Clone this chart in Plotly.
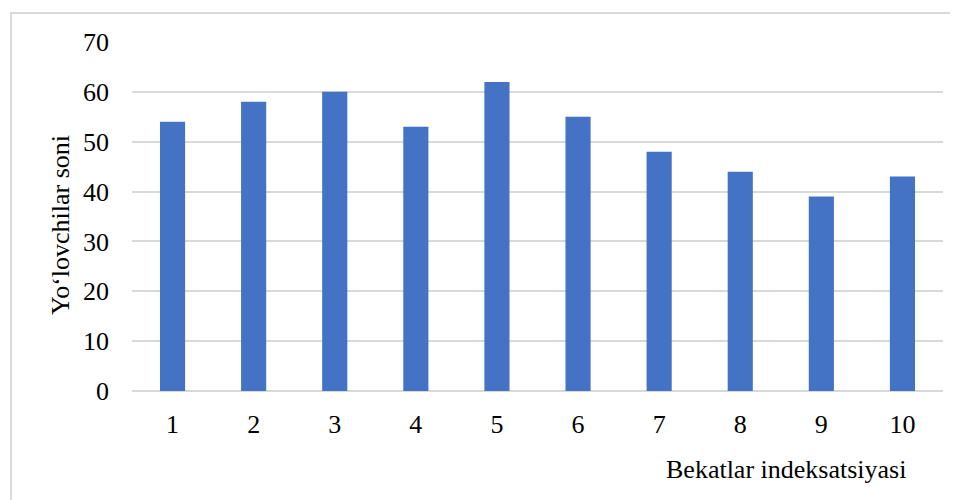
import plotly.graph_objects as go

categories = ["1", "2", "3", "4", "5", "6", "7", "8", "9", "10"]
values = [54, 58, 60, 53, 62, 55, 48, 44, 39, 43]
y_ticks = [0, 10, 20, 30, 40, 50, 60, 70]
x_title = "Bekatlar indeksatsiyasi"
y_title = "Yo‘lovchilar soni"

OFF = 8  # page body margin
W, H = 958, 500
L, R, T, B = 132 - OFF, 23, 42 - OFF, 117
pw, ph = W - L - R, H - T - B

def px(x):
    return (x - OFF - L) / pw

def py(y):
    return (H - B - (y - OFF)) / ph

fig = go.Figure(go.Bar(x=categories, y=values, marker=dict(color="#4472C4", line=dict(width=0))))

font = "Liberation Serif, Times New Roman, serif"
fs = 26
fig.update_layout(
    width=W, height=H,
    margin=dict(l=L, r=R, t=T, b=B),
    paper_bgcolor="white", plot_bgcolor="white",
    bargap=0.69,
    showlegend=False,
    font=dict(family=font, size=fs, color="black"),
    xaxis=dict(type="category", showgrid=False, showline=False, zeroline=False,
               ticks="", ticklabelstandoff=15, tickfont=dict(size=fs)),
    yaxis=dict(range=[0, 70], tickvals=y_ticks, showgrid=True, gridcolor="#D9D9D9", gridwidth=1.5,
               zeroline=True, zerolinecolor="#D9D9D9", zerolinewidth=1.5, showline=False,
               ticks="", ticklabelstandoff=22, tickfont=dict(size=fs)),
)

fig.add_annotation(text=x_title, xref="paper", yref="paper",
                   x=px(786), y=py(469), xanchor="center", yanchor="middle",
                   showarrow=False, font=dict(size=fs))
fig.add_annotation(text=y_title, xref="paper", yref="paper",
                   x=px(60), y=py(225), xanchor="center", yanchor="middle",
                   textangle=-90, showarrow=False, font=dict(size=fs))

fig.add_shape(type="rect", xref="paper", yref="paper",
              x0=px(11), x1=px(975),
              y0=py(520), y1=py(13),
              line=dict(color="#D9D9D9", width=2), fillcolor="rgba(0,0,0,0)", layer="below")

fig.write_html("out.html")
